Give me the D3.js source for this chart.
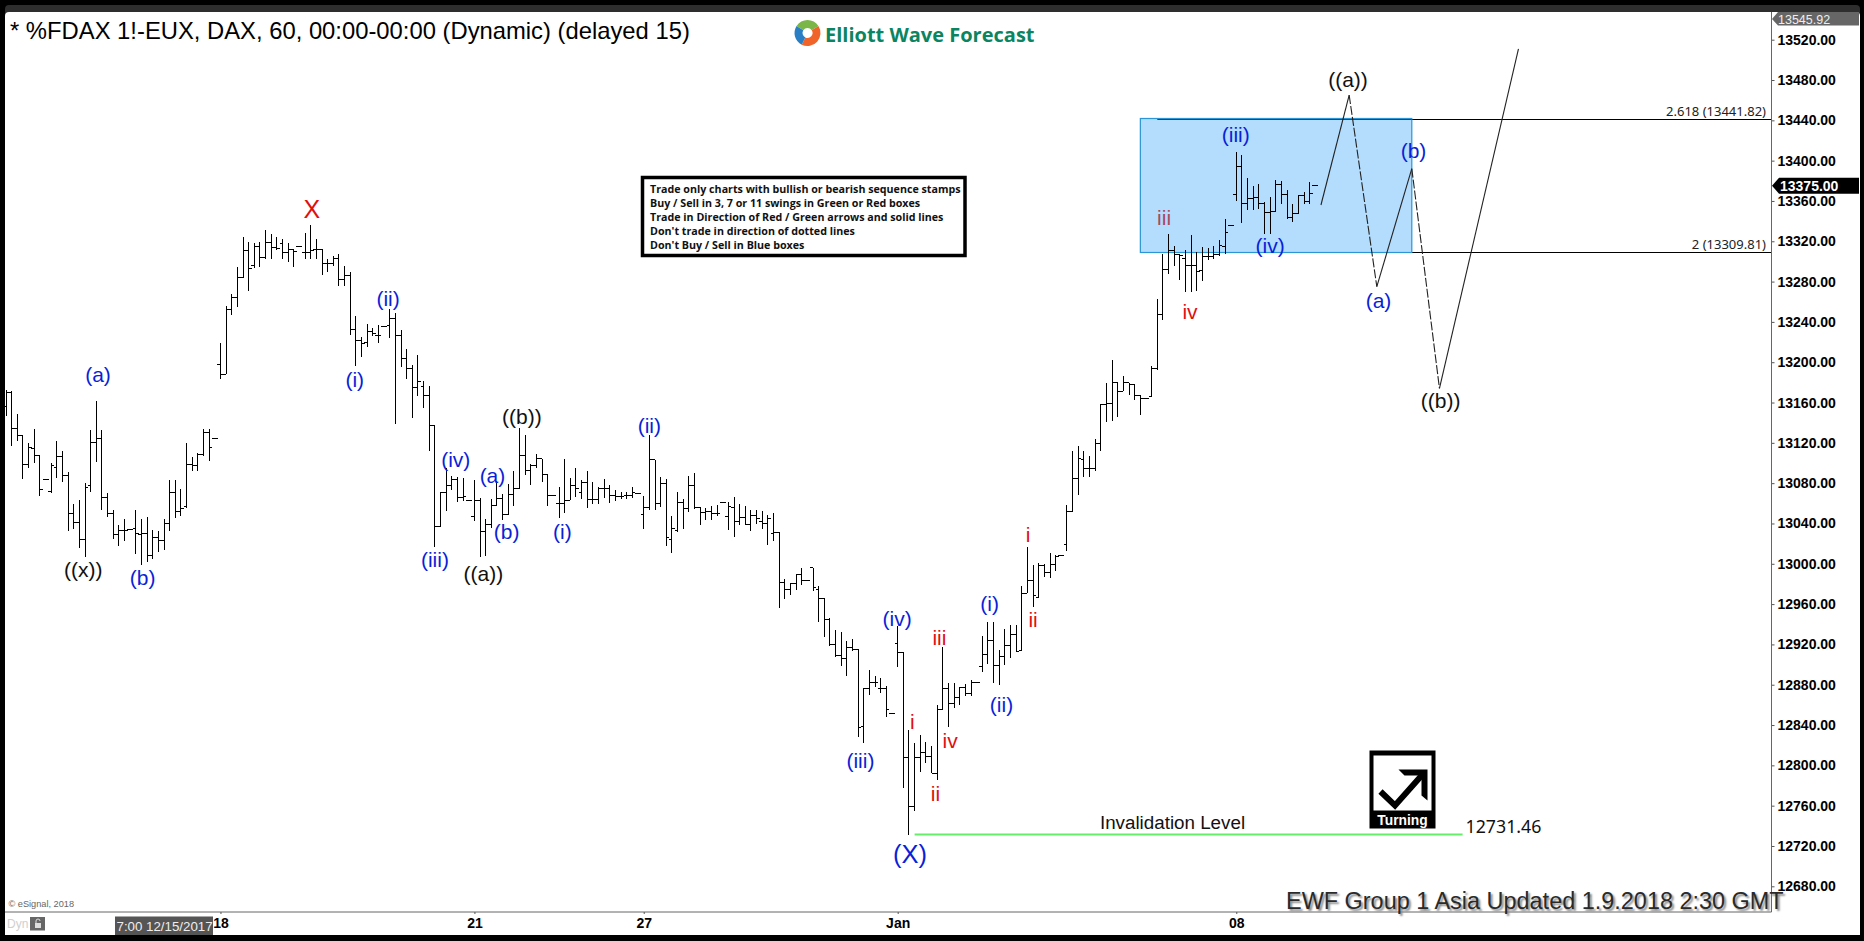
<!DOCTYPE html>
<html>
<head>
<meta charset="utf-8">
<title>FDAX 60</title>
<script src="https://cdnjs.cloudflare.com/ajax/libs/d3/7.8.5/d3.min.js"></script>
<style>
html, body { margin: 0; padding: 0; background: #000; overflow: hidden; }
svg { display: block; }
text { font-family: "Liberation Sans", Arial, sans-serif; }
</style>
</head>
<body>
<div id="svg"></div>
<script>
// hourly bars
var highs = [13172,13171,13149,13127,13120,13134,13107,13084,13100,13122,13112,13091,13059,13063,13080,13133,13162,13133,13070,13053,13038,13044,13034,13053,13044,13046,13034,13033,13044,13083,13083,13074,13120,13106,13110,13134,13134,13124,
    13219,13256,13268,13294,13324,13319,13318,13319,13331,13327,13324,13322,13318,13312,13315,13328,13336,13322,13312,13302,13305,13307,13295,13290,13246,13225,13238,13234,13237,13235,13253,13249,13232,13213,13197,13207,13181,13176,13137,13071,
    13095,13087,13086,13085,13063,13083,13065,13044,13064,13082,13069,13079,13092,13135,13128,13099,13109,13104,13089,13068,13076,13104,13085,13095,13083,13092,13081,13076,13084,13078,13073,13071,13071,13076,13070,
    13067,13128,13103,13086,13084,13047,13071,13064,13087,13090,13056,13055,13057,13058,13061,13061,13066,13059,13057,13053,13053,13052,13048,13050,13032,12985,12981,12990,12996,12983,12996,12978,12966,12946,12934,12932,12923,12925,12915,12877,12895,12889,12887,12879,12851,
    12938,12912,12835,12822,12830,12823,12819,12860,12917,12882,12882,12878,12881,12885,12882,12928,12942,12942,12914,12935,12939,12939,12978,13017,12999,13001,13000,13011,13009,13008,13058,13112,13117,
    13112,13107,13124,13159,13179,13202,13180,13186,13179,13178,13167,13164,13196,13263,13307,13327,13315,13307,13311,13326,13309,13314,13313,13315,13321,13342,13336,13409,13406,13383,13375,13377,13359,13364,13381,13380,13371,13357,13365,13369,13379,13375];
var lows = [13147,13117,13122,13084,13095,13100,13067,13084,13070,13085,13081,13033,13035,13016,13007,13071,13101,13053,13046,13025,13018,13023,13034,13010,12999,13002,13005,13012,13014,13033,13045,13047,13055,13092,13092,13107,13102,13124,
    13183,13188,13247,13255,13284,13271,13293,13294,13302,13302,13311,13302,13299,13294,13315,13302,13302,13302,13287,13290,13295,13276,13276,13227,13196,13205,13215,13226,13219,13235,13224,13139,13195,13183,13145,13166,13155,13112,13017,13037,
    13052,13073,13061,13062,13063,13042,13007,13008,13036,13057,13043,13048,13057,13075,13088,13078,13095,13081,13057,13068,13045,13050,13063,13066,13064,13055,13059,13059,13065,13060,13062,13064,13064,13065,13070,
    13035,13053,13053,13056,13018,13011,13032,13035,13051,13054,13038,13043,13043,13047,13061,13034,13027,13038,13038,13033,13039,13035,13019,13023,12956,12965,12969,12974,12979,12983,12973,12942,12927,12918,12908,12899,12889,12913,12828,12822,12870,12878,12872,12848,12851,
    12898,12778,12731,12755,12793,12802,12792,12785,12855,12838,12857,12860,12869,12869,12882,12893,12901,12882,12880,12900,12907,12912,12914,12971,12957,12966,12987,12986,12993,13008,13013,13051,13068,
    13086,13086,13092,13112,13141,13142,13146,13171,13167,13163,13148,13164,13165,13192,13242,13288,13295,13282,13270,13270,13271,13281,13301,13302,13305,13307,13336,13360,13338,13351,13351,13352,13327,13327,13349,13357,13342,13339,13347,13357,13357,13375];
var opens = [13156,13170,13134,13127,13099,13114,13107,13084,13072,13096,13106,13088,13050,13041,13024,13078,13120,13124,13066,13050,13029,13033,13034,13035,13029,13030,13008,13026,13023,13040,13071,13052,13057,13099,13098,13108,13130,13124,
    13198,13188,13252,13264,13284,13311,13296,13315,13304,13319,13314,13318,13309,13312,13315,13309,13309,13312,13312,13298,13298,13303,13282,13286,13232,13222,13220,13230,13227,13235,13236,13243,13227,13204,13194,13175,13176,13167,13137,13037,
    13071,13078,13084,13066,13063,13047,13063,13032,13039,13058,13065,13049,13069,13075,13107,13093,13098,13104,13089,13068,13060,13060,13063,13078,13071,13081,13064,13064,13075,13075,13068,13067,13068,13068,13070,
    13049,13056,13103,13060,13080,13024,13033,13061,13055,13078,13056,13051,13052,13050,13061,13047,13056,13042,13046,13039,13048,13042,13040,13030,13031,12981,12974,12980,12989,12983,12996,12974,12966,12945,12920,12909,12906,12917,12915,12839,12876,12882,12876,12876,12851,
    12921,12912,12808,12759,12808,12813,12809,12792,12855,12876,12861,12867,12877,12871,12882,12898,12910,12924,12899,12908,12919,12930,12914,12971,12983,12967,12998,12991,12999,13008,13019,13052,13085,
    13103,13095,13095,13119,13158,13159,13180,13171,13180,13178,13167,13164,13166,13194,13247,13292,13311,13307,13303,13296,13296,13291,13305,13305,13307,13315,13336,13366,13394,13357,13362,13363,13357,13349,13350,13376,13366,13344,13348,13365,13359,13375];
var closes = [13170,13134,13127,13099,13115,13107,13074,13084,13098,13106,13088,13050,13041,13024,13076,13120,13124,13066,13050,13029,13033,13033,13034,13030,13030,13008,13026,13023,13040,13071,13052,13055,13099,13098,13108,13130,13115,13124,
    13188,13252,13264,13284,13311,13293,13315,13304,13319,13314,13313,13309,13312,13310,13315,13309,13311,13312,13298,13298,13303,13282,13286,13232,13222,13219,13230,13228,13227,13235,13243,13227,13204,13194,13175,13181,13167,13137,13037,13071,
    13078,13084,13066,13067,13063,13063,13032,13039,13058,13065,13049,13069,13075,13107,13093,13098,13104,13089,13068,13068,13060,13063,13078,13075,13081,13064,13064,13075,13075,13068,13067,13067,13068,13071,13070,
    13056,13103,13060,13080,13026,13035,13061,13055,13078,13056,13051,13052,13050,13050,13061,13057,13042,13046,13039,13048,13045,13040,13045,13031,12981,12974,12980,12989,12983,12983,12976,12966,12945,12920,12909,12906,12917,12915,12838,12876,12882,12882,12876,12855,12851,
    12912,12808,12759,12808,12813,12809,12792,12855,12876,12861,12867,12877,12871,12882,12882,12910,12924,12899,12908,12919,12930,12913,12971,12983,12969,12998,12991,12999,13007,13008,13052,13085,13104,
    13095,13095,13119,13158,13159,13180,13171,13180,13178,13167,13164,13164,13194,13247,13292,13311,13307,13306,13296,13296,13290,13305,13305,13307,13316,13329,13336,13394,13357,13362,13363,13357,13349,13350,13376,13366,13344,13348,13365,13359,13367,13375];

var priceTicks = [12680,12720,12760,12800,12840,12880,12920,12960,13000,13040,13080,13120,13160,13200,13240,13280,13320,13360,13400,13440,13480,13520];
var dateBars = [38, 83, 113, 158, 218];
var dateLabels = ["18", "21", "27", "Jan", "08"];

var fibTop = 13441.82, fibBottom = 13309.81, lastPrice = 13375, axisTop = 13545.92, invalidation = 12731.46;

// wave labels: text, bar number, price
var blueLabels = [["(a)",16.3,13187],["(b)",24.2,12985],["(i)",61.8,13182],["(ii)",67.7,13262],["(iii)",76,13003],["(iv)",79.7,13102],["(a)",86.2,13087],["(b)",88.7,13031],["(i)",98.6,13031],["(ii)",114,13136],["(iii)",151.4,12804],["(iv)",157.9,12945],["(i)",174.3,12960],["(ii)",176.4,12859],["(iii)",217.9,13425],["(iv)",224,13315],["(a)",243.2,13260],["(b)",249.4,13409]];
var redLabels = [["i",160.6,12843],["iii",165.4,12926],["iv",167.3,12824],["ii",164.7,12771],["i",181.1,13028],["ii",182,12944],["iv",209.8,13249]];
var blackLabels = [["((x))",13.7,12993],["((a))",84.6,12989],["((b))",91.4,13145],["((a))",237.8,13480],["((b))",254.2,13161]];

// projected path: bar number, price
var pathBars = [233, 238, 242.9, 249.1, 254, 268];
var pathPrices = [13356, 13465, 13275, 13392, 13174, 13511];

var noteLines = ["Trade only charts with bullish or bearish sequence stamps", "Buy / Sell in 3, 7 or 11 swings in Green or Red boxes", "Trade in Direction of Red / Green arrows and solid lines", "Don't trade in direction of dotted lines", "Don't Buy / Sell in Blue boxes"];

var width = 1864, height = 941;
var plotRight = 1771.5, plotBottom = 912;

var x = d3.scaleLinear().domain([0, 232]).range([6, 1315.3]);
var y = d3.scaleLinear().domain([12680, 13520]).range([886.3, 39.7]);

// keep the long horizontal rules on one pixel row
function rowY(price) {
    return Math.ceil(y(price)) + 0.5;
}

var svg = d3.select("#svg").append("svg")
    .attr("width", width)
    .attr("height", height);

// window frame
svg.append("rect").attr("x", 5).attr("y", 5).attr("width", 1855).attr("height", 20).attr("rx", 4).attr("fill", "#2e2e2e");
svg.append("path").attr("d", "M5 16 Q5 12 9 12 H1856 Q1860 12 1860 16 V935 H5 Z").attr("fill", "#fff");

// fib lines and blue box
svg.append("line")
    .attr("x1", x(249.1)).attr("x2", plotRight)
    .attr("y1", rowY(fibTop)).attr("y2", rowY(fibTop))
    .attr("stroke", "#000");
svg.append("line")
    .attr("x1", x(249.1)).attr("x2", plotRight)
    .attr("y1", rowY(fibBottom)).attr("y2", rowY(fibBottom))
    .attr("stroke", "#000");
svg.append("rect")
    .attr("x", x(201)).attr("width", x(249.1) - x(201))
    .attr("y", y(fibTop)).attr("height", rowY(fibBottom) - y(fibTop))
    .attr("fill", "#b3dcfd")
    .attr("stroke", "#2b95d6")
    .attr("stroke-width", 1.2);
svg.append("line")
    .attr("x1", x(204)).attr("x2", x(249.1))
    .attr("y1", rowY(fibTop)).attr("y2", rowY(fibTop))
    .attr("stroke", "#0b4f80");

svg.selectAll("text.fib")
    .data([fibTop, fibBottom])
    .enter().append("text")
    .attr("class", "fib")
    .attr("x", 1766)
    .attr("y", function (d) { return rowY(d) - 3.5; })
    .attr("text-anchor", "end")
    .attr("fill", "#222")
    .style("font-family", "'Noto Sans', sans-serif")
    .style("font-size", "13px")
    .text(function (d, i) { return (i == 0 ? "2.618 (" : "2 (") + d.toFixed(2) + ")"; });

// invalidation level
svg.append("line")
    .attr("x1", x(161)).attr("x2", x(258.1))
    .attr("y1", y(invalidation)).attr("y2", y(invalidation))
    .attr("stroke", "#66ee6a")
    .attr("stroke-width", 2);

// hlc bars
var bars = svg.append("g").attr("stroke", "#000").attr("shape-rendering", "crispEdges")
    .selectAll("g")
    .data(highs)
    .enter().append("g");

bars.append("line")
    .attr("x1", function (d, i) { return x(i); })
    .attr("x2", function (d, i) { return x(i); })
    .attr("y1", function (d) { return y(d); })
    .attr("y2", function (d, i) { return y(lows[i]); });
bars.append("line")
    .attr("x1", function (d, i) { return x(i) - 3; })
    .attr("x2", function (d, i) { return x(i); })
    .attr("y1", function (d, i) { return y(opens[i]); })
    .attr("y2", function (d, i) { return y(opens[i]); });
bars.append("line")
    .attr("x1", function (d, i) { return x(i); })
    .attr("x2", function (d, i) { return x(i) + 3; })
    .attr("y1", function (d, i) { return y(closes[i]); })
    .attr("y2", function (d, i) { return y(closes[i]); });

// projected path, solid and dashed legs in turn
var legs = svg.append("g").attr("fill", "none").attr("stroke", "#222").attr("stroke-width", 1.1);
for (var i = 0; i < pathBars.length - 1; i++) {
    legs.append("line")
        .attr("x1", x(pathBars[i])).attr("y1", y(pathPrices[i]))
        .attr("x2", x(pathBars[i + 1])).attr("y2", y(pathPrices[i + 1]))
        .attr("stroke-dasharray", i % 2 == 1 ? "9,2" : null);
}

// wave labels
function drawLabels(rows, color, size) {
    svg.append("g").selectAll("text")
        .data(rows)
        .enter().append("text")
        .attr("x", function (d) { return x(d[1]); })
        .attr("y", function (d) { return y(d[2]) - 1; })
        .attr("text-anchor", "middle")
        .attr("dominant-baseline", "central")
        .attr("fill", color)
        .style("font-size", size + "px")
        .text(function (d) { return d[0]; });
}
drawLabels(blueLabels, "#0a1fd8", 21);
drawLabels(redLabels, "#e01010", 21);
drawLabels(blackLabels, "#111", 21);
drawLabels([["iii", 205.2, 13343]], "#a8495e", 21);
drawLabels([["X", 54.2, 13351]], "#e01010", 25);
drawLabels([["(X)", 160.2, 12711]], "#0a1fd8", 25.5);

svg.append("text")
    .attr("x", x(206.7)).attr("y", y(12743))
    .attr("text-anchor", "middle").attr("dominant-baseline", "central")
    .attr("fill", "#111").style("font-size", "18.8px").text("Invalidation Level");
svg.append("text")
    .attr("x", 1465.5).attr("y", y(12740))
    .attr("dominant-baseline", "central")
    .attr("fill", "#111")
    .style("font-family", "'Noto Sans', sans-serif")
    .style("font-size", "17.8px")
    .text(invalidation.toFixed(2));

// price axis
svg.append("g")
    .attr("transform", "translate(" + plotRight + ",0)")
    .call(d3.axisRight(y).tickValues(priceTicks).tickSize(3).tickPadding(3).tickFormat(d3.format(".2f")))
    .call(function (g) {
        g.select(".domain").remove();
        g.selectAll("line").attr("stroke", "#555");
        g.selectAll("text").attr("fill", "#000").style("font-size", "14px").style("font-weight", "bold");
    });
svg.append("line")
    .attr("x1", plotRight).attr("x2", plotRight)
    .attr("y1", 12).attr("y2", plotBottom)
    .attr("stroke", "#666");

// badges on the price axis
svg.append("path")
    .attr("d", "M1772 19 L1778 12 H1859 V25.5 H1778 Z")
    .attr("fill", "#666");
svg.append("text")
    .attr("x", 1778).attr("y", 19.5)
    .attr("dominant-baseline", "central")
    .attr("fill", "#eee").style("font-size", "12.5px")
    .text(axisTop.toFixed(2));
svg.append("path")
    .attr("d", "M1772 " + y(lastPrice) + " l7 -8 H1859 v16 H1779 Z")
    .attr("fill", "#000");
svg.append("text")
    .attr("x", 1780).attr("y", y(lastPrice))
    .attr("dominant-baseline", "central")
    .attr("fill", "#fff").style("font-size", "14px").style("font-weight", "bold")
    .text(lastPrice.toFixed(2));

// date axis
svg.append("line")
    .attr("x1", 5).attr("x2", plotRight)
    .attr("y1", plotBottom).attr("y2", plotBottom)
    .attr("stroke", "#666");
svg.append("g")
    .attr("transform", "translate(0," + plotBottom + ")")
    .call(d3.axisBottom(x).tickValues(dateBars).tickSize(2).tickPadding(4.5).tickFormat(function (d, i) { return dateLabels[i]; }))
    .call(function (g) {
        g.select(".domain").remove();
        g.selectAll("line").attr("stroke", "#555");
        g.selectAll("text").attr("fill", "#000").style("font-size", "14px").style("font-weight", "bold");
    });

svg.append("rect").attr("x", 115).attr("y", 916.5).attr("width", 98).attr("height", 18.5).attr("fill", "#555");
svg.append("text")
    .attr("x", 116.5).attr("y", 926)
    .attr("dominant-baseline", "central")
    .attr("fill", "#eee").style("font-size", "13.3px")
    .text("7:00 12/15/2017");
svg.append("text")
    .attr("x", 7).attr("y", 923.5)
    .attr("dominant-baseline", "central")
    .attr("fill", "#d0d0d0").style("font-size", "12px")
    .text("Dyn");
svg.append("rect").attr("x", 30).attr("y", 917).attr("width", 15).attr("height", 13.5).attr("fill", "#666");
svg.append("rect").attr("x", 35).attr("y", 923).attr("width", 6).attr("height", 5).attr("fill", "#ddd");
svg.append("path").attr("d", "M36 923 v-2 a2 2 0 0 1 4 0").attr("fill", "none").attr("stroke", "#ddd");
svg.append("text")
    .attr("x", 8.5).attr("y", 904)
    .attr("dominant-baseline", "central")
    .attr("fill", "#666").style("font-size", "9.2px")
    .text("\u00a9 eSignal, 2018");

// title and logo
svg.append("text")
    .attr("x", 10).attr("y", 30)
    .attr("dominant-baseline", "central")
    .attr("fill", "#000").style("font-size", "23.8px")
    .text("* %FDAX 1!-EUX, DAX, 60, 00:00-00:00 (Dynamic) (delayed 15)");

var logo = svg.append("g").attr("transform", "translate(807.5,33)");
var logoArc = d3.arc().innerRadius(5).outerRadius(13);
logo.selectAll("path")
    .data([[-1.0, 1.0, "#7ab648"], [1.0, 3.6, "#f0642a"], [3.6, 5.28, "#2a7fc4"]])
    .enter().append("path")
    .attr("d", function (d) { return logoArc({ startAngle: d[0], endAngle: d[1] }); })
    .attr("fill", function (d) { return d[2]; });
svg.append("text")
    .attr("x", 825).attr("y", 34)
    .attr("dominant-baseline", "central")
    .attr("fill", "#0c8460")
    .style("font-family", "'Open Sans', sans-serif")
    .style("font-weight", "bold")
    .style("font-size", "20px")
    .text("Elliott Wave Forecast");

// rules box
svg.append("rect")
    .attr("x", 642.5).attr("y", 177.5).attr("width", 322.5).attr("height", 78)
    .attr("fill", "#fff").attr("stroke", "#000").attr("stroke-width", 3.5);
svg.selectAll("text.note")
    .data(noteLines)
    .enter().append("text")
    .attr("class", "note")
    .attr("x", 650)
    .attr("y", function (d, i) { return 189 + i * 13.9; })
    .attr("dominant-baseline", "central")
    .attr("fill", "#111")
    .style("font-family", "'Open Sans', sans-serif")
    .style("font-weight", "bold")
    .style("font-size", "10.7px")
    .text(function (d) { return d; });

// turning stamp
var stamp = svg.append("g").attr("transform", "translate(1369.5,750.5)");
stamp.append("rect").attr("width", 66).attr("height", 78).attr("fill", "#000");
stamp.append("rect").attr("x", 4).attr("y", 5).attr("width", 58).attr("height", 55).attr("fill", "#fff");
stamp.append("path")
    .attr("d", "M11 41 L25.5 55 L53 24")
    .attr("fill", "none").attr("stroke", "#000").attr("stroke-width", 6);
stamp.append("path")
    .attr("d", "M29 19 H58 V50 L52 45 V25 H35 Z")
    .attr("fill", "#000");
stamp.append("text")
    .attr("x", 33).attr("y", 70)
    .attr("text-anchor", "middle").attr("dominant-baseline", "central")
    .attr("fill", "#fff").style("font-size", "13.8px").style("font-weight", "bold")
    .text("Turning");

// footer stamp
svg.append("text")
    .attr("x", 1286).attr("y", 901)
    .attr("dominant-baseline", "central")
    .attr("fill", "#2a2a2a")
    .style("font-size", "23.45px")
    .style("text-shadow", "2px 2px 2px #888")
    .text("EWF Group 1 Asia Updated 1.9.2018 2:30 GMT");
</script>
</body>
</html>
